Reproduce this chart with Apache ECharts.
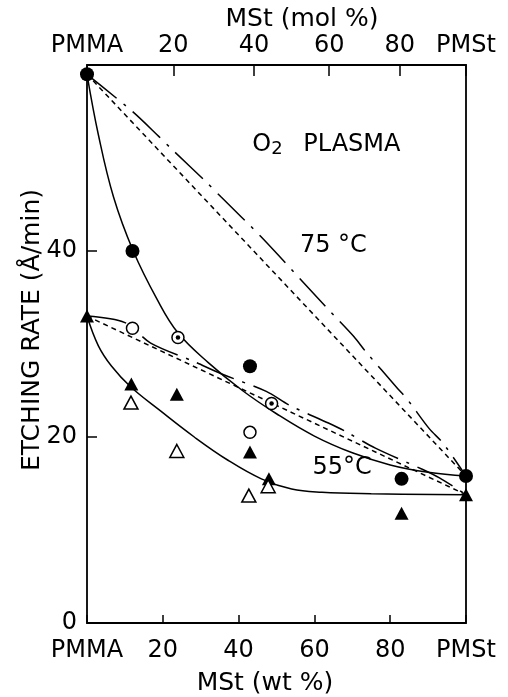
<!DOCTYPE html>
<html>
<head>
<meta charset="utf-8">
<script src="https://cdn.jsdelivr.net/npm/echarts@6/dist/echarts.min.js"></script>
<style>
  html, body { margin: 0; padding: 0; background: #fff; }
  #chart { width: 508px; height: 697px; }
</style>
</head>
<body>
<div id="chart"></div>
<script>
// Etching rate of PMMA / PMSt blends in O2 plasma (x = MSt wt %)

// Axis ticks
const wtTicks = [0, 20, 40, 60, 80, 100];
const molTicks = [0, 20, 40, 60, 80, 100];
const tickLabels = ['PMMA', '20', '40', '60', '80', 'PMSt'];

// Measured points [wt %, rate in Å/min]
const filledCircles = [[0, 59], [12, 40], [43, 27.6], [83, 15.5], [100, 15.8]];
const openCircles = [[12, 31.7], [43, 20.5]];
const dottedCircles = [[24, 30.7], [48.7, 23.6]];
const filledTriangles = [[0, 33], [11.7, 25.7], [23.7, 24.6], [43, 18.4], [48, 15.5], [83, 11.8], [100, 13.8]];
const openTriangles = [[11.6, 23.7], [23.7, 18.5], [42.7, 13.7], [47.8, 14.7]];

// Fitted curves
const curve75 = [[0, 59], [3, 52.5], [7, 45.8], [12.2, 40], [18.5, 34.8], [24, 31.2], [32, 28], [41, 25], [50, 22.5], [60, 20.1], [70, 18.3], [80, 17], [90, 16.2], [100, 15.8]];
const curve55 = [[0, 33], [3, 29.8], [6.5, 27.6], [11.5, 25.4], [19.4, 22.8], [28.3, 20], [37.2, 17.5], [46, 15.5], [54, 14.4], [62, 14.05], [75, 13.9], [100, 13.8]];

// Additivity lines: linear in weight fraction
const wtLine75 = [[0, 59], [100, 15.8]];
const wtLine55 = [[0, 33], [100, 13.8]];
// Additivity lines: linear in mole fraction (plotted against wt %)
const molLine75 = [[0, 59], [12, 55], [19, 52.3], [22.5, 50.9], [31, 47.6], [35.4, 45.8], [46, 41.5], [63, 34], [70.4, 30.8], [73.5, 29.2], [82, 25.2], [84.6, 24], [90.3, 20.9], [94, 19.3], [100, 15.8]];
const molLine55 = [[0, 33], [10, 32.3], [16.8, 30.1], [28.3, 28.1], [35.4, 26.8], [47.3, 24.9], [53.5, 23.4], [63.7, 21.5], [68.2, 20.6], [76.1, 18.8], [88.6, 16.5], [93, 15.6], [100, 13.8]];

// mol % of MSt -> wt % of MSt
const M_MMA = 100.12, M_MST = 118.18;
function molToWt(m) { return 100 * m * M_MST / (m * M_MST + (100 - m) * M_MMA); }
const molTickPos = molTicks.map(molToWt);

const FONT = 'DejaVu Sans';
const ink = '#000';

const chart = echarts.init(document.getElementById('chart'), null, { renderer: 'canvas' });

function lineSeries(data, type, smooth) {
  return {
    type: 'line', data: data, smooth: smooth,
    symbol: 'none', clip: false, silent: true, z: 2,
    lineStyle: { color: ink, width: 1.5, type: type }
  };
}
function pointSeries(data, symbol, size, filled, z) {
  return {
    type: 'scatter', data: data, symbol: symbol, symbolSize: size, clip: false, z: z || 5,
    itemStyle: filled
      ? { color: ink, opacity: 1 }
      : { color: '#fff', borderColor: ink, borderWidth: 1.5, opacity: 1 }
  };
}

const option = {
  backgroundColor: '#fff',
  animation: false,
  grid: { left: 87, right: 42, top: 65, bottom: 74, show: true, borderColor: ink, borderWidth: 1.8, backgroundColor: 'transparent' },
  xAxis: [
    {
      type: 'value', position: 'bottom', min: 0, max: 100, interval: 20,
      axisLine: { show: false },
      axisTick: { show: true, inside: true, length: 8, lineStyle: { color: ink, width: 1.5 } },
      splitLine: { show: false },
      axisLabel: {
        show: true, margin: 16, color: ink, fontFamily: FONT, fontSize: 24,
        showMinLabel: true, showMaxLabel: true,
        formatter: function (v) { const i = wtTicks.indexOf(v); return i >= 0 ? tickLabels[i] : ''; }
      }
    },
    {
      type: 'value', position: 'top', min: 0, max: 100,
      axisLine: { show: false },
      axisTick: { show: true, inside: true, length: 11, customValues: molTickPos, lineStyle: { color: ink, width: 1.5 } },
      splitLine: { show: false },
      axisLabel: {
        show: true, margin: 7, color: ink, fontFamily: FONT, fontSize: 24,
        customValues: molTickPos,
        formatter: function (v) {
          let best = 0;
          molTickPos.forEach(function (p, i) { if (Math.abs(p - v) < Math.abs(molTickPos[best] - v)) best = i; });
          return tickLabels[best];
        }
      }
    }
  ],
  yAxis: {
    type: 'value', min: 0, max: 60, interval: 20,
    axisLine: { show: false },
    axisTick: { show: true, inside: true, length: 10, lineStyle: { color: ink, width: 1.5 } },
    splitLine: { show: false },
    axisLabel: {
      show: true, margin: 10, color: ink, fontFamily: FONT, fontSize: 24,
      formatter: function (v) { return v >= 60 ? '' : String(v); }
    }
  },
  series: [
    lineSeries(curve75, 'solid', 0.4),
    lineSeries(curve55, 'solid', 0.4),
    lineSeries(wtLine75, [5, 4], false),
    lineSeries(wtLine55, [5, 4], false),
    lineSeries(molLine75, [38, 9, 3, 9], 0.3),
    lineSeries(molLine55, [40, 9, 3, 9], 0.3),
    pointSeries(filledCircles, 'circle', 14, true),
    pointSeries(openCircles, 'circle', 12, false),
    pointSeries(dottedCircles, 'circle', 12, false),
    pointSeries(dottedCircles, 'circle', 4.5, true, 6),
    pointSeries(filledTriangles, 'triangle', [14, 13], true),
    pointSeries(openTriangles, 'triangle', [14, 13], false)
  ]
};
chart.setOption(option);

// Titles and annotations
function px(x, y) { return chart.convertToPixel({ xAxisIndex: 0, yAxisIndex: 0 }, [x, y]); }
function label(text, x, y, size, extra) {
  return Object.assign({
    type: 'text', x: x, y: y,
    style: { text: text, fill: ink, fontFamily: FONT, fontSize: size, align: 'center', verticalAlign: 'middle' }
  }, extra || {});
}
const p75 = px(65, 40.6);
const p55 = px(67.3, 16.7);
const pO2 = px(43.6, 51.4);
chart.setOption({
  graphic: [
    label('MSt (mol %)', 302, 19, 25),
    label('MSt (wt %)', 265, 683, 25),
    label('ETCHING RATE (Å/min)', 32, 330, 25, { rotation: Math.PI / 2 }),
    label('75 °C', p75[0], p75[1], 24),
    label('55°C', p55[0], p55[1], 24),
    {
      type: 'group', x: pO2[0], y: pO2[1],
      children: [
        { type: 'text', x: 0, y: 0, style: { text: 'O', fill: ink, fontFamily: FONT, fontSize: 24, align: 'left', verticalAlign: 'middle' } },
        { type: 'text', x: 19, y: 4, style: { text: '2', fill: ink, fontFamily: FONT, fontSize: 18, align: 'left', verticalAlign: 'middle' } },
        { type: 'text', x: 51, y: 0, style: { text: 'PLASMA', fill: ink, fontFamily: FONT, fontSize: 24, align: 'left', verticalAlign: 'middle' } }
      ]
    }
  ]
});
</script>
</body>
</html>
